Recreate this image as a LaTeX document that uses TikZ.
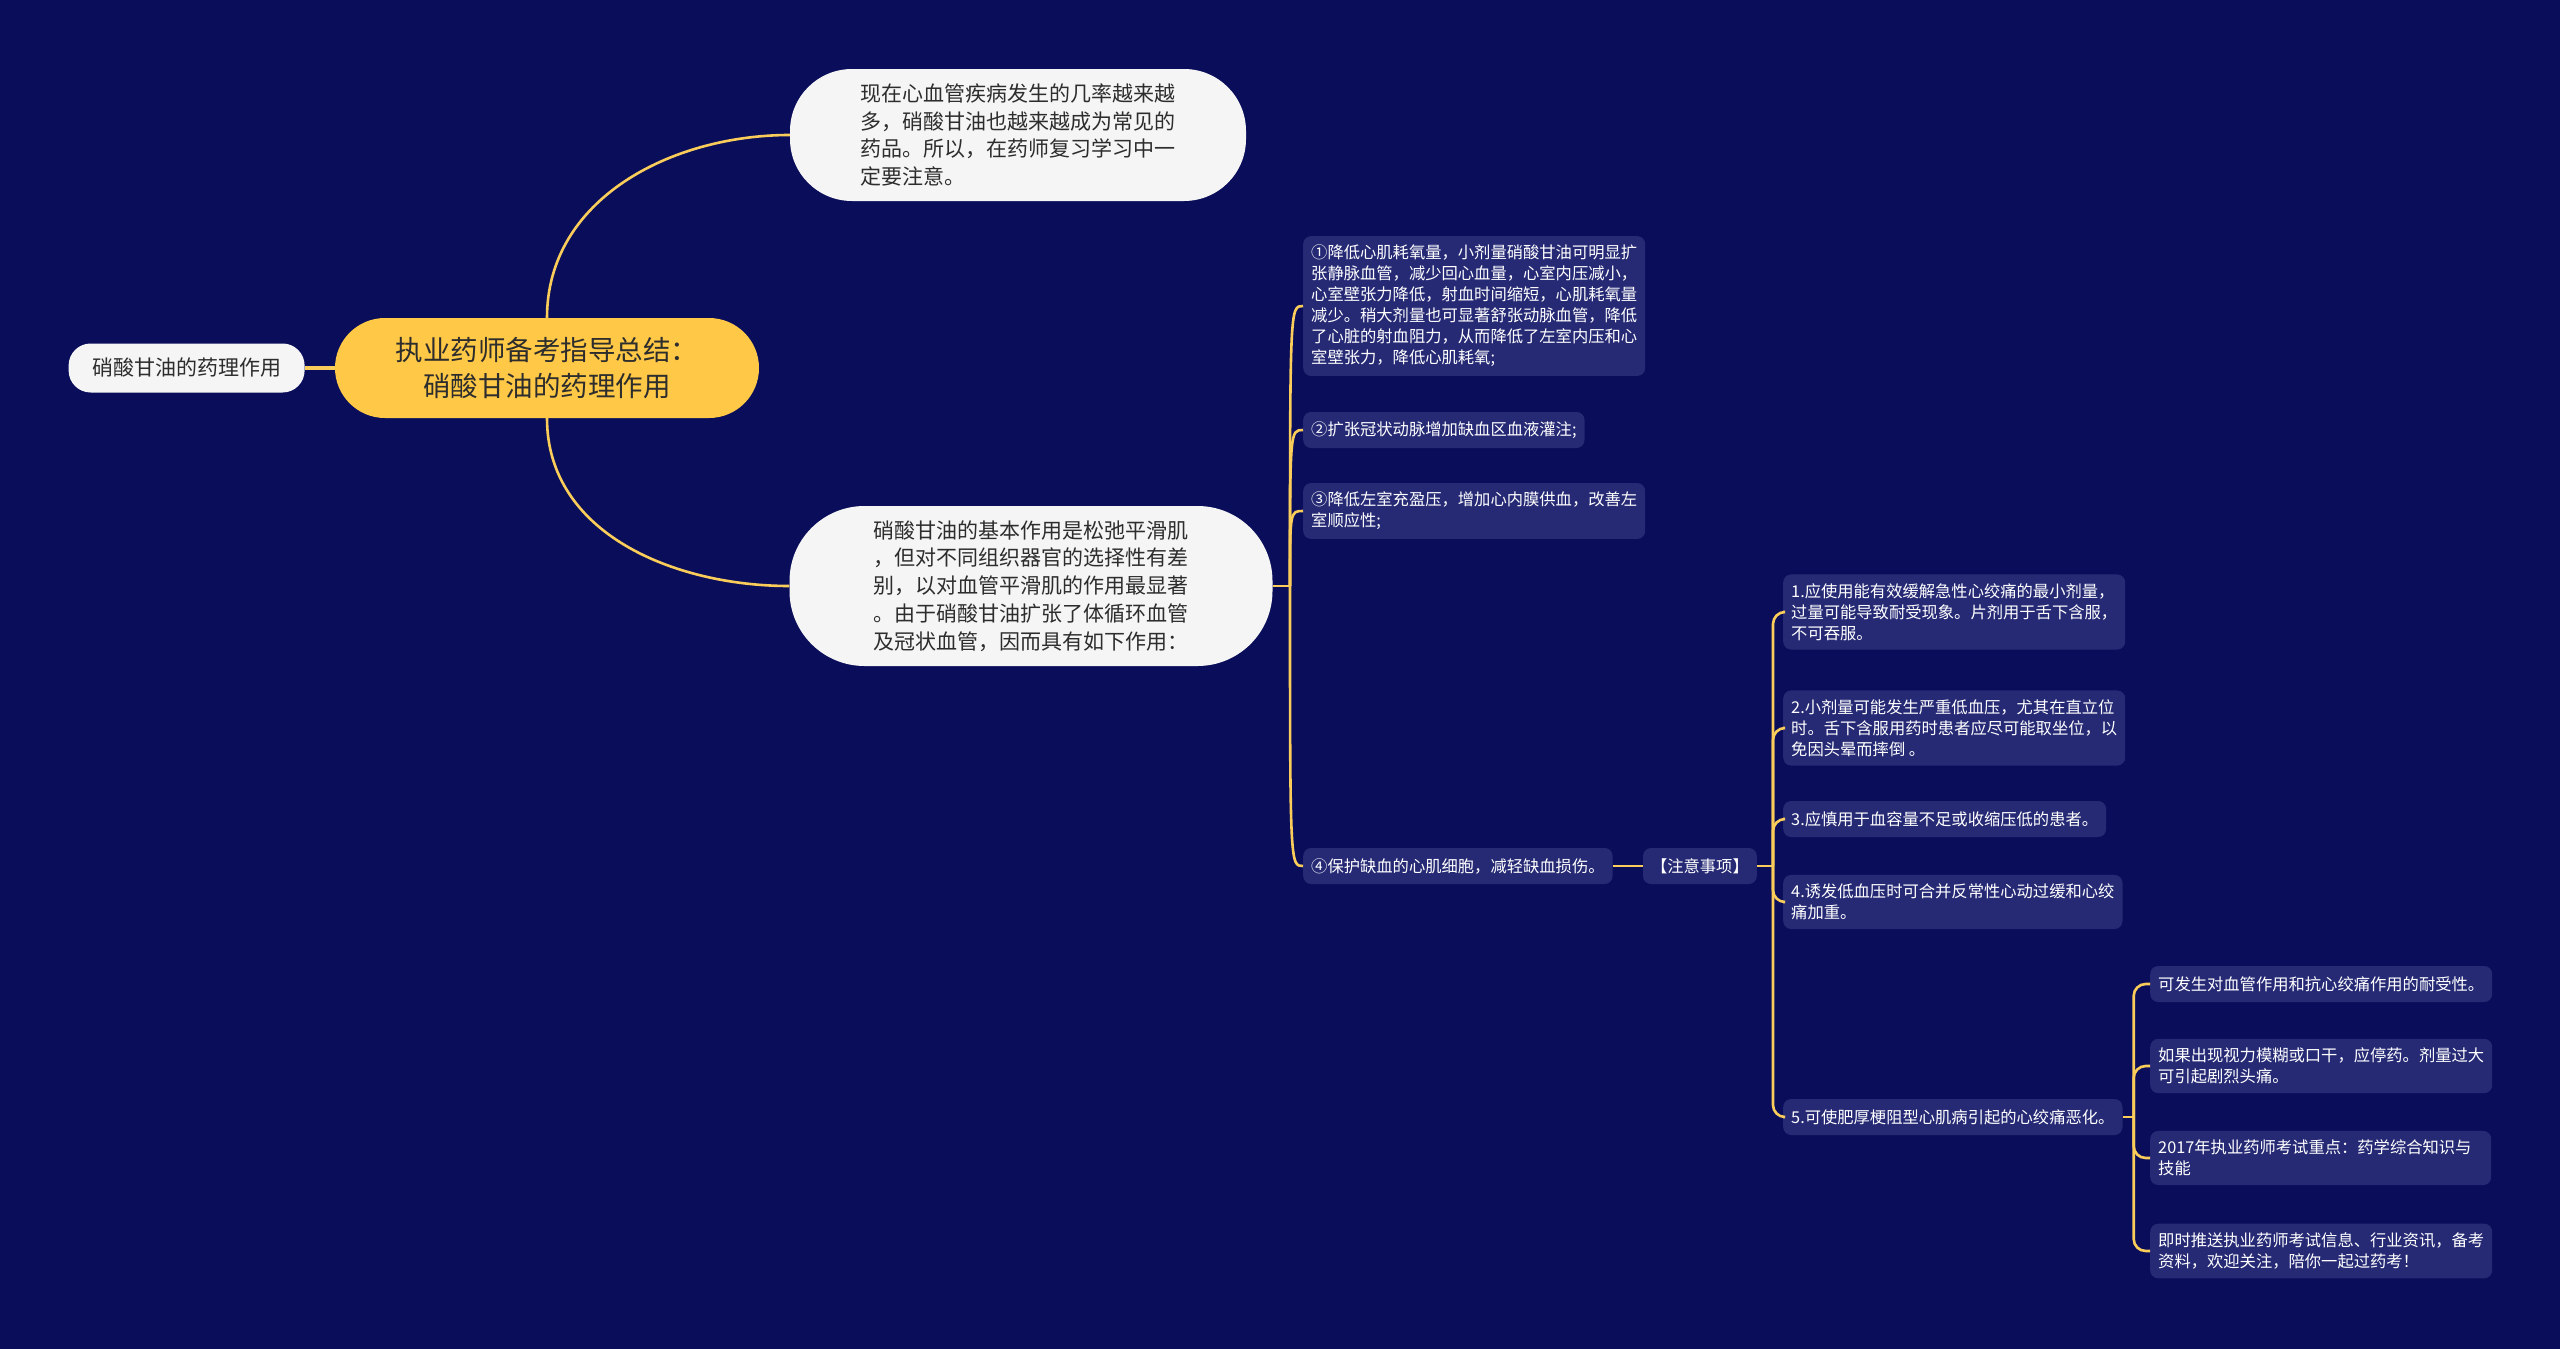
\documentclass[tikz,border=0pt]{standalone}
\usepackage{fontspec}
\setmainfont{Noto Sans CJK SC}
\usetikzlibrary{positioning}

\definecolor{bgnavy}{RGB}{10,14,90}
\definecolor{itemfill}{RGB}{38,42,117}
\definecolor{linegold}{RGB}{250,205,90}
\definecolor{rootgold}{RGB}{255,200,70}
\definecolor{notewhite}{RGB}{245,245,245}
\definecolor{inkgray}{RGB}{45,45,45}

\begin{document}
\begin{tikzpicture}[x=1pt, y=-1pt,
   rootbox/.style={fill=rootgold, rectangle, rounded corners=50pt, minimum width=424pt, minimum height=100pt, align=center, text=inkgray, font=\fontsize{27.5}{36}\selectfont},
   notebox/.style={fill=notewhite, rectangle, text=inkgray, align=left, font=\fontsize{21}{27.8}\selectfont},
   itembox/.style={fill=itemfill, rectangle, rounded corners=8pt, text=white, align=left, anchor=west, inner xsep=8pt, inner ysep=9pt, minimum height=36pt, font=\fontsize{16.3}{21}\selectfont},
   branch/.style={draw=linegold, line width=2.6pt}
]
\useasboundingbox (0,0) rectangle (2560,1349);
\fill[bgnavy] (0,0) rectangle (2560,1349);

% Nodes
\node [rootbox] (root) at (547,368) {执业药师备考指导总结：\\硝酸甘油的药理作用};
\node [notebox, left=30pt of root, align=center, rounded corners=22pt, minimum width=236pt, minimum height=49pt] (title) {硝酸甘油的药理作用};
\node [notebox, rounded corners=62pt, minimum width=456pt, minimum height=132pt, text width=315pt] (intro) at (1018,135) {现在心血管疾病发生的几率越来越\\多，硝酸甘油也越来越成为常见的\\药品。所以，在药师复习学习中一\\定要注意。};
\node [notebox, rounded corners=75pt, minimum width=483pt, minimum height=160pt, text width=315pt] (basis) at (1031,586) {硝酸甘油的基本作用是松弛平滑肌\\，但对不同组织器官的选择性有差\\别，以对血管平滑肌的作用最显著\\。由于硝酸甘油扩张了体循环血管\\及冠状血管，因而具有如下作用：};

\node [itembox] (e1) at (1303,306) {①降低心肌耗氧量，小剂量硝酸甘油可明显扩\\张静脉血管，减少回心血量，心室内压减小，\\心室壁张力降低，射血时间缩短，心肌耗氧量\\减少。稍大剂量也可显著舒张动脉血管，降低\\了心脏的射血阻力，从而降低了左室内压和心\\室壁张力，降低心肌耗氧;};
\node [itembox] (e2) at (1303,430) {②扩张冠状动脉增加缺血区血液灌注;};
\node [itembox] (e3) at (1303,511) {③降低左室充盈压，增加心内膜供血，改善左\\室顺应性;};
\node [itembox] (e4) at (1303,866) {④保护缺血的心肌细胞，减轻缺血损伤。};
\node [itembox, right=30pt of e4] (care) {【注意事项】};

\node [itembox] (c1) at (1783,612) {1.应使用能有效缓解急性心绞痛的最小剂量，\\过量可能导致耐受现象。片剂用于舌下含服，\\不可吞服。};
\node [itembox] (c2) at (1783,728) {2.小剂量可能发生严重低血压，尤其在直立位\\时。舌下含服用药时患者应尽可能取坐位，以\\免因头晕而摔倒 。};
\node [itembox] (c3) at (1783,819) {3.应慎用于血容量不足或收缩压低的患者。};
\node [itembox] (c4) at (1783,902) {4.诱发低血压时可合并反常性心动过缓和心绞\\痛加重。};
\node [itembox] (c5) at (1783,1117) {5.可使肥厚梗阻型心肌病引起的心绞痛恶化。};

\node [itembox] (d1) at (2150,984) {可发生对血管作用和抗心绞痛作用的耐受性。};
\node [itembox] (d2) at (2150,1066) {如果出现视力模糊或口干，应停药。剂量过大\\可引起剧烈头痛。};
\node [itembox, text width=325pt] (d3) at (2150,1158) {2017年执业药师考试重点：药学综合知识与\\技能};
\node [itembox] (d4) at (2150,1251) {即时推送执业药师考试信息、行业资讯，备考\\资料，欢迎关注，陪你一起过药考！};

\coordinate (j1) at (1290,586);
\coordinate (j2) at ([xshift=16pt]care.east);
\coordinate (j3) at ([xshift=11pt]c5.east);

% Connections
\draw [branch, line width=4pt] (root.west) -- (title.east);
\draw [branch] (root.north) to[out=90, in=180] (intro.west);
\draw [branch] (root.south) to[out=-90, in=180] (basis.west);
\draw [branch] (basis.east) -- (j1);
\foreach \n in {e1,e2,e3,e4}
  \draw [branch] (j1) .. controls (j1 |- \n.west) .. (\n.west);
\draw [branch] (e4) -- (care);
\draw [branch] (care.east) -- (j2);
\foreach \n in {c1,c2,c3,c4,c5}
  \draw [branch, rounded corners=12pt] (j2) |- (\n.west);
\draw [branch] (c5.east) -- (j3);
\foreach \n in {d1,d2,d3,d4}
  \draw [branch, rounded corners=12pt] (j3) |- (\n.west);

\end{tikzpicture}
\end{document}
